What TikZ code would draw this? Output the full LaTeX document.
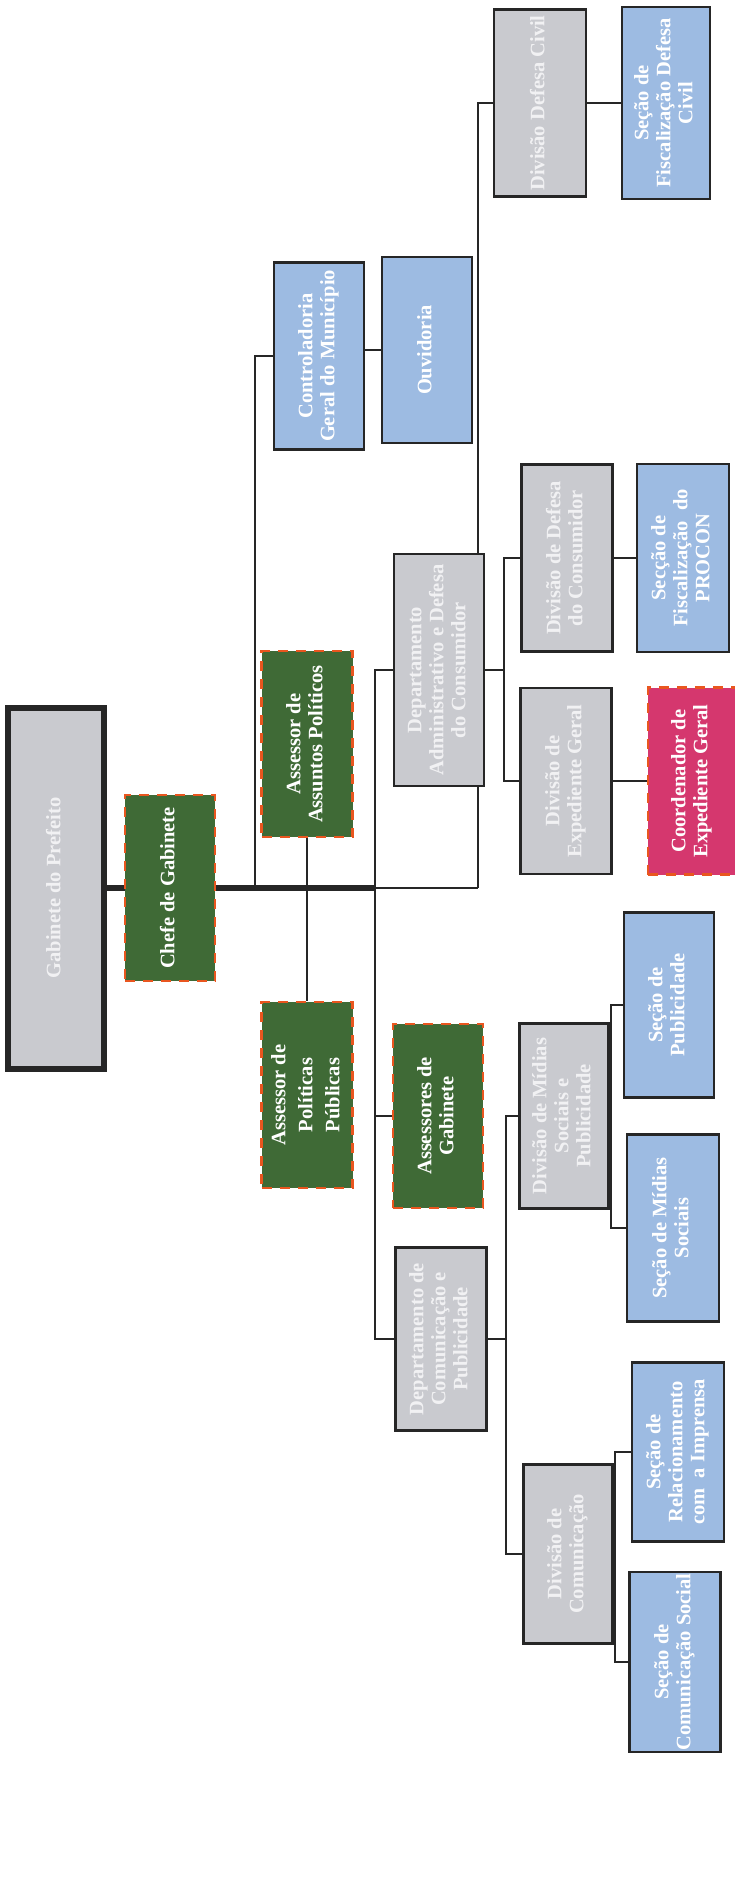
\documentclass[tikz,border=0pt]{standalone}
\usepackage{fontspec}
\setmainfont{Liberation Serif}
\usepackage{graphicx}
\usepackage{tikz}
\usetikzlibrary{backgrounds}

\definecolor{edgedark}{HTML}{262626}
\definecolor{unitgray}{HTML}{C9CACF}
\definecolor{unitgraytext}{HTML}{F1F1F3}
\definecolor{unitblue}{HTML}{9DBBE2}
\definecolor{unitgreen}{HTML}{3F6A36}
\definecolor{unitpink}{HTML}{D5376E}
\definecolor{dashorange}{HTML}{E9561F}

\newcommand{\orgtext}[1]{\rotatebox{90}{\begin{tabular}{@{}c@{}}#1\end{tabular}}}

\begin{document}
\begin{tikzpicture}[x=1pt,y=-1pt,
  unit/.style={inner sep=0pt,minimum width=91,minimum height=186,
    font=\bfseries\fontsize{20.5}{22}\selectfont,text=white},
  grayunit/.style={unit,draw=edgedark,line width=2.6pt,fill=unitgray,text=unitgraytext},
  blueunit/.style={unit,draw=edgedark,line width=2.6pt,fill=unitblue},
  greenunit/.style={unit,draw=dashorange,line width=2.4pt,
    dash pattern=on 10pt off 8pt,fill=unitgreen},
  pinkunit/.style={greenunit,fill=unitpink},
  link/.style={draw=edgedark,line width=2.3pt},
  trunk/.style={draw=edgedark,line width=5.5pt}]
  \useasboundingbox
    (0,0)
    rectangle
    (735,1894);
  \node[grayunit,line width=6pt,minimum width=96,minimum height=361]
    (gab) at (56,888) {\orgtext{Gabinete do Prefeito}};
  \node[greenunit,minimum width=90]
    (chefe) at (170,888) {\orgtext{Chefe de Gabinete}};
  \node[greenunit]
    (assPol) at (307,744) {\orgtext{Assessor de\\Assuntos Políticos}};
  \node[greenunit,font=\bfseries\fontsize{20.5}{27}\selectfont]
    (assPub) at (307,1095) {\orgtext{Assessor de\\Políticas\\Públicas}};
  \node[blueunit,minimum width=90,minimum height=187]
    (contr) at (319,356) {\orgtext{Controladoria\\Geral do Município}};
  \node[blueunit,minimum width=90]
    (ouv) at (427,350) {\orgtext{Ouvidoria}};
  \node[grayunit,minimum width=90,minimum height=232]
    (deptAdm) at (439,670) {\orgtext{Departamento\\Administrativo e Defesa\\do Consumidor}};
  \node[greenunit,minimum width=90,minimum height=184]
    (assGab) at (438,1116) {\orgtext{Assessores de\\Gabinete}};
  \node[grayunit,minimum height=183]
    (deptCom) at (441,1339) {\orgtext{Departamento de\\Comunicação e\\Publicidade}};
  \node[grayunit,minimum width=92,minimum height=187]
    (divCivil) at (540,103) {\orgtext{Divisão Defesa Civil}};
  \node[blueunit,minimum width=88,minimum height=192]
    (secCivil) at (666,103) {\orgtext{Seção de\\Fiscalização Defesa\\Civil}};
  \node[grayunit,minimum height=187]
    (divCons) at (567,558) {\orgtext{Divisão de Defesa\\do Consumidor}};
  \node[blueunit,minimum width=92,minimum height=188]
    (secProcon) at (683,558) {\orgtext{Secção de\\Fiscalização\ \ do\\PROCON}};
  \node[grayunit]
    (divExp) at (566,781) {\orgtext{Divisão de\\Expediente Geral}};
  \node[pinkunit,minimum width=88,minimum height=187]
    (coord) at (692,781) {\orgtext{Coordenador de\\Expediente Geral}};
  \node[grayunit,minimum width=89,minimum height=185]
    (divMid) at (564,1116) {\orgtext{Divisão de Mídias\\Sociais e\\Publicidade}};
  \node[blueunit,minimum width=90,minimum height=185]
    (secPub) at (669,1005) {\orgtext{Seção de\\Publicidade}};
  \node[blueunit,minimum width=92,minimum height=187]
    (secMid) at (673,1228) {\orgtext{Seção de Mídias\\Sociais}};
  \node[grayunit,minimum width=89,minimum height=179]
    (divCom) at (568,1554) {\orgtext{Divisão de\\Comunicação}};
  \node[blueunit,minimum width=92,minimum height=179]
    (secRel) at (678,1452) {\orgtext{Seção de\\Relacionamento\\com\ \ a Imprensa}};
  \node[blueunit,minimum height=180]
    (secSoc) at (675,1662) {\orgtext{Seção de\\Comunicação Social}};
  \coordinate (contrBus) at (255,888);
  \coordinate (admBus) at (375,888);
  \coordinate (civBus) at (478,888);
  \coordinate (consBus) at (504,670);
  \coordinate (comBus) at (506,1339);
  \coordinate (midBus) at (611,1116);
  \coordinate (relBus) at (615,1554);
  \begin{scope}[on background layer]
    \draw[trunk]
      (gab.east)
      --
      (admBus);
    \draw[link]
      (admBus)
      --
      (civBus);
    \draw[link]
      (contr.west)
      -|
      (contrBus);
    \draw[link]
      (ouv.west)
      --
      (ouv.west -| contr.east);
    \draw[link]
      (assPol.south)
      --
      (assPub.north);
    \draw[link]
      (divCivil.west)
      -|
      (civBus);
    \draw[link]
      (divCivil.east)
      --
      (secCivil.west);
    \draw[link]
      (deptAdm.west)
      -|
      (admBus)
      |-
      (deptCom.west);
    \draw[link]
      (assGab.west)
      --
      (assGab.west -| admBus);
    \draw[link]
      (deptAdm.east)
      --
      (consBus);
    \draw[link]
      (divCons.west)
      -|
      (consBus)
      |-
      (divExp.west);
    \draw[link]
      (divCons.east)
      --
      (secProcon.west);
    \draw[link]
      (divExp.east)
      --
      (coord.west);
    \draw[link]
      (deptCom.east)
      --
      (comBus);
    \draw[link]
      (divMid.west)
      -|
      (comBus)
      |-
      (divCom.west);
    \draw[link]
      (secPub.west)
      -|
      (midBus)
      |-
      (secMid.west);
    \draw[link]
      (secRel.west)
      -|
      (relBus)
      |-
      (secSoc.west);
  \end{scope}
\end{tikzpicture}
\end{document}
